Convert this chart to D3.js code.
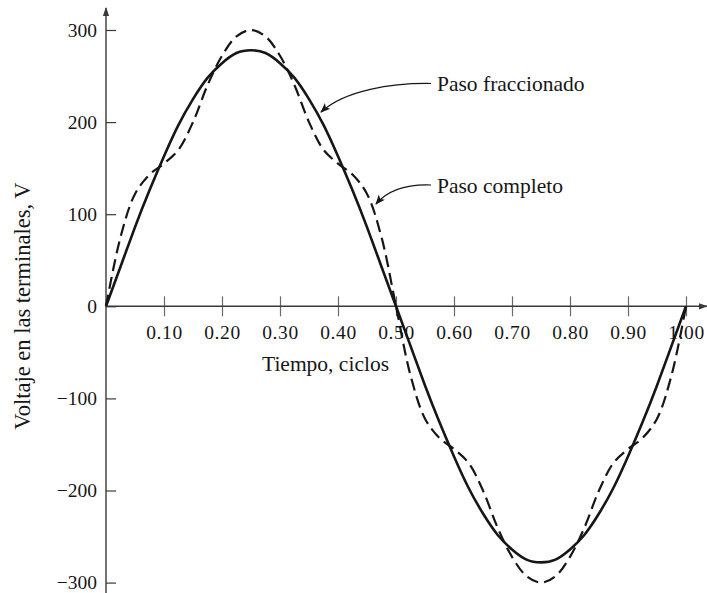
<!DOCTYPE html>
<html>
<head>
<meta charset="utf-8">
<script src="https://cdn.jsdelivr.net/npm/d3@7"></script>
<style>
  html, body { margin: 0; padding: 0; background: #fff; }
  svg { display: block; font-family: "Liberation Serif", "Times New Roman", serif; }
</style>
</head>
<body>
<svg id="chart" width="707" height="593"></svg>
<script>
// Time in cycles, sampled every 0.025
const tiempo = [
  0, 0.025, 0.05, 0.075, 0.1, 0.125, 0.15, 0.175, 0.2, 0.225,
  0.25, 0.275, 0.3, 0.325, 0.35, 0.375, 0.4, 0.425, 0.45, 0.475,
  0.5, 0.525, 0.55, 0.575, 0.6, 0.625, 0.65, 0.675, 0.7, 0.725,
  0.75, 0.775, 0.8, 0.825, 0.85, 0.875, 0.9, 0.925, 0.95, 0.975, 1.0
];

// Terminal voltage, fractional-pitch winding (V)
const pasoFraccionado = [
  0, 43, 86, 126, 163, 197, 225, 248, 264, 275,
  278, 275, 264, 248, 225, 197, 163, 126, 86, 43,
  0, -43, -86, -126, -163, -197, -225, -248, -264, -275,
  -278, -275, -264, -248, -225, -197, -163, -126, -86, -43, 0
];

// Terminal voltage, full-pitch winding (V)
const pasoCompleto = [
  0, 75, 122, 143, 155, 170, 200, 240, 272, 293,
  300, 293, 272, 240, 200, 170, 155, 143, 122, 75,
  0, -75, -122, -143, -155, -170, -200, -240, -272, -293,
  -300, -293, -272, -240, -200, -170, -155, -143, -122, -75, 0
];

const xTicks = [0.1, 0.2, 0.3, 0.4, 0.5, 0.6, 0.7, 0.8, 0.9, 1.0];
const yTicks = [-300, -200, -100, 0, 100, 200, 300];

const svg = d3.select("#chart");
const ink = "#161616";
const axisInk = "#3a3a3a";
const tickFont = 19.5;
const labelFont = 21.5;

const x = d3.scaleLinear().domain([0, 1]).range([106, 686]);
const y = d3.scaleLinear().domain([-300, 300]).range([582.6, 30]);

// Arrowheads
const defs = svg.append("defs");
defs.append("marker")
  .attr("id", "axisArrow")
  .attr("viewBox", "0 0 10 10")
  .attr("refX", 9).attr("refY", 5)
  .attr("markerWidth", 9).attr("markerHeight", 9)
  .attr("markerUnits", "userSpaceOnUse")
  .attr("orient", "auto")
  .append("path")
  .attr("d", "M0,1.5 L10,5 L0,8.5 Z")
  .attr("fill", axisInk);

defs.append("marker")
  .attr("id", "noteArrow")
  .attr("viewBox", "0 0 10 10")
  .attr("refX", 9).attr("refY", 5)
  .attr("markerWidth", 10).attr("markerHeight", 10)
  .attr("markerUnits", "userSpaceOnUse")
  .attr("orient", "auto")
  .append("path")
  .attr("d", "M0,1 L10,5 L0,9 L2.5,5 Z")
  .attr("fill", ink);

// Y axis with ticks pointing right
const yAxis = d3.axisLeft(y)
  .tickValues(yTicks)
  .tickSize(-10)
  .tickPadding(9)
  .tickFormat(d => d < 0 ? "\u2212" + Math.abs(d) : String(d));

const gy = svg.append("g")
  .attr("transform", `translate(${x(0)},0)`)
  .call(yAxis);
gy.select(".domain").remove();
gy.selectAll(".tick line").attr("stroke", axisInk).attr("stroke-width", 1.2);
gy.selectAll(".tick text")
  .attr("fill", ink)
  .style("font-size", tickFont + "px")
  .style("font-family", "Liberation Serif, Times New Roman, serif");

// X axis through zero, ticks crossing the line
const xAxis = d3.axisBottom(x)
  .tickValues(xTicks)
  .tickSize(10)
  .tickPadding(8.5)
  .tickFormat(d3.format(".2f"));

const gx = svg.append("g")
  .attr("transform", `translate(0,${y(0)})`)
  .call(xAxis);
gx.select(".domain").remove();
gx.selectAll(".tick line")
  .attr("y1", -10).attr("y2", 10)
  .attr("stroke", "#6a6a6a").attr("stroke-width", 1.2);
gx.selectAll(".tick text")
  .attr("fill", ink)
  .style("font-size", tickFont + "px")
  .style("letter-spacing", "0.6px")
  .style("font-family", "Liberation Serif, Times New Roman, serif");

// Axis lines with arrowheads
svg.append("line")
  .attr("x1", x(0)).attr("x2", x(0))
  .attr("y1", 593).attr("y2", 8)
  .attr("stroke", axisInk).attr("stroke-width", 1.4)
  .attr("marker-end", "url(#axisArrow)");

svg.append("line")
  .attr("x1", x(0)).attr("x2", 707)
  .attr("y1", y(0)).attr("y2", y(0))
  .attr("stroke", axisInk).attr("stroke-width", 1.4)
  .attr("marker-end", "url(#axisArrow)");

// Curves
const pts = vals => tiempo.map((t, i) => [t, vals[i]]);

const solidLine = d3.line()
  .x(d => x(d[0])).y(d => y(d[1]))
  .curve(d3.curveNatural);

const dashedLine = d3.line()
  .x(d => x(d[0])).y(d => y(d[1]))
  .curve(d3.curveCatmullRom.alpha(0.5));

svg.append("path")
  .datum(pts(pasoCompleto))
  .attr("d", dashedLine)
  .attr("fill", "none")
  .attr("stroke", ink)
  .attr("stroke-width", 2.2)
  .attr("stroke-dasharray", "12,6");

svg.append("path")
  .datum(pts(pasoFraccionado))
  .attr("d", solidLine)
  .attr("fill", "none")
  .attr("stroke", ink)
  .attr("stroke-width", 2.6);

// Axis titles
svg.append("text")
  .attr("x", 262).attr("y", 371)
  .attr("fill", ink)
  .style("font-size", labelFont + "px")
  .text("Tiempo, ciclos");

svg.append("text")
  .attr("transform", "translate(30,306) rotate(-90)")
  .attr("text-anchor", "middle")
  .attr("fill", ink)
  .style("font-size", "22.5px")
  .text("Voltaje en las terminales, V");

// Curve annotations
const notes = [
  { label: "Paso fraccionado", tx: 437, ty: 91, path: "M431,83.5 C392,83 345,90 321,112" },
  { label: "Paso completo", tx: 437, ty: 193, path: "M431,185 C405,184 388,190 376,204" }
];

notes.forEach(n => {
  svg.append("path")
    .attr("d", n.path)
    .attr("fill", "none")
    .attr("stroke", ink)
    .attr("stroke-width", 1.2)
    .attr("marker-end", "url(#noteArrow)");
  svg.append("text")
    .attr("x", n.tx).attr("y", n.ty)
    .attr("fill", ink)
    .style("font-size", labelFont + "px")
    .text(n.label);
});
</script>
</body>
</html>
